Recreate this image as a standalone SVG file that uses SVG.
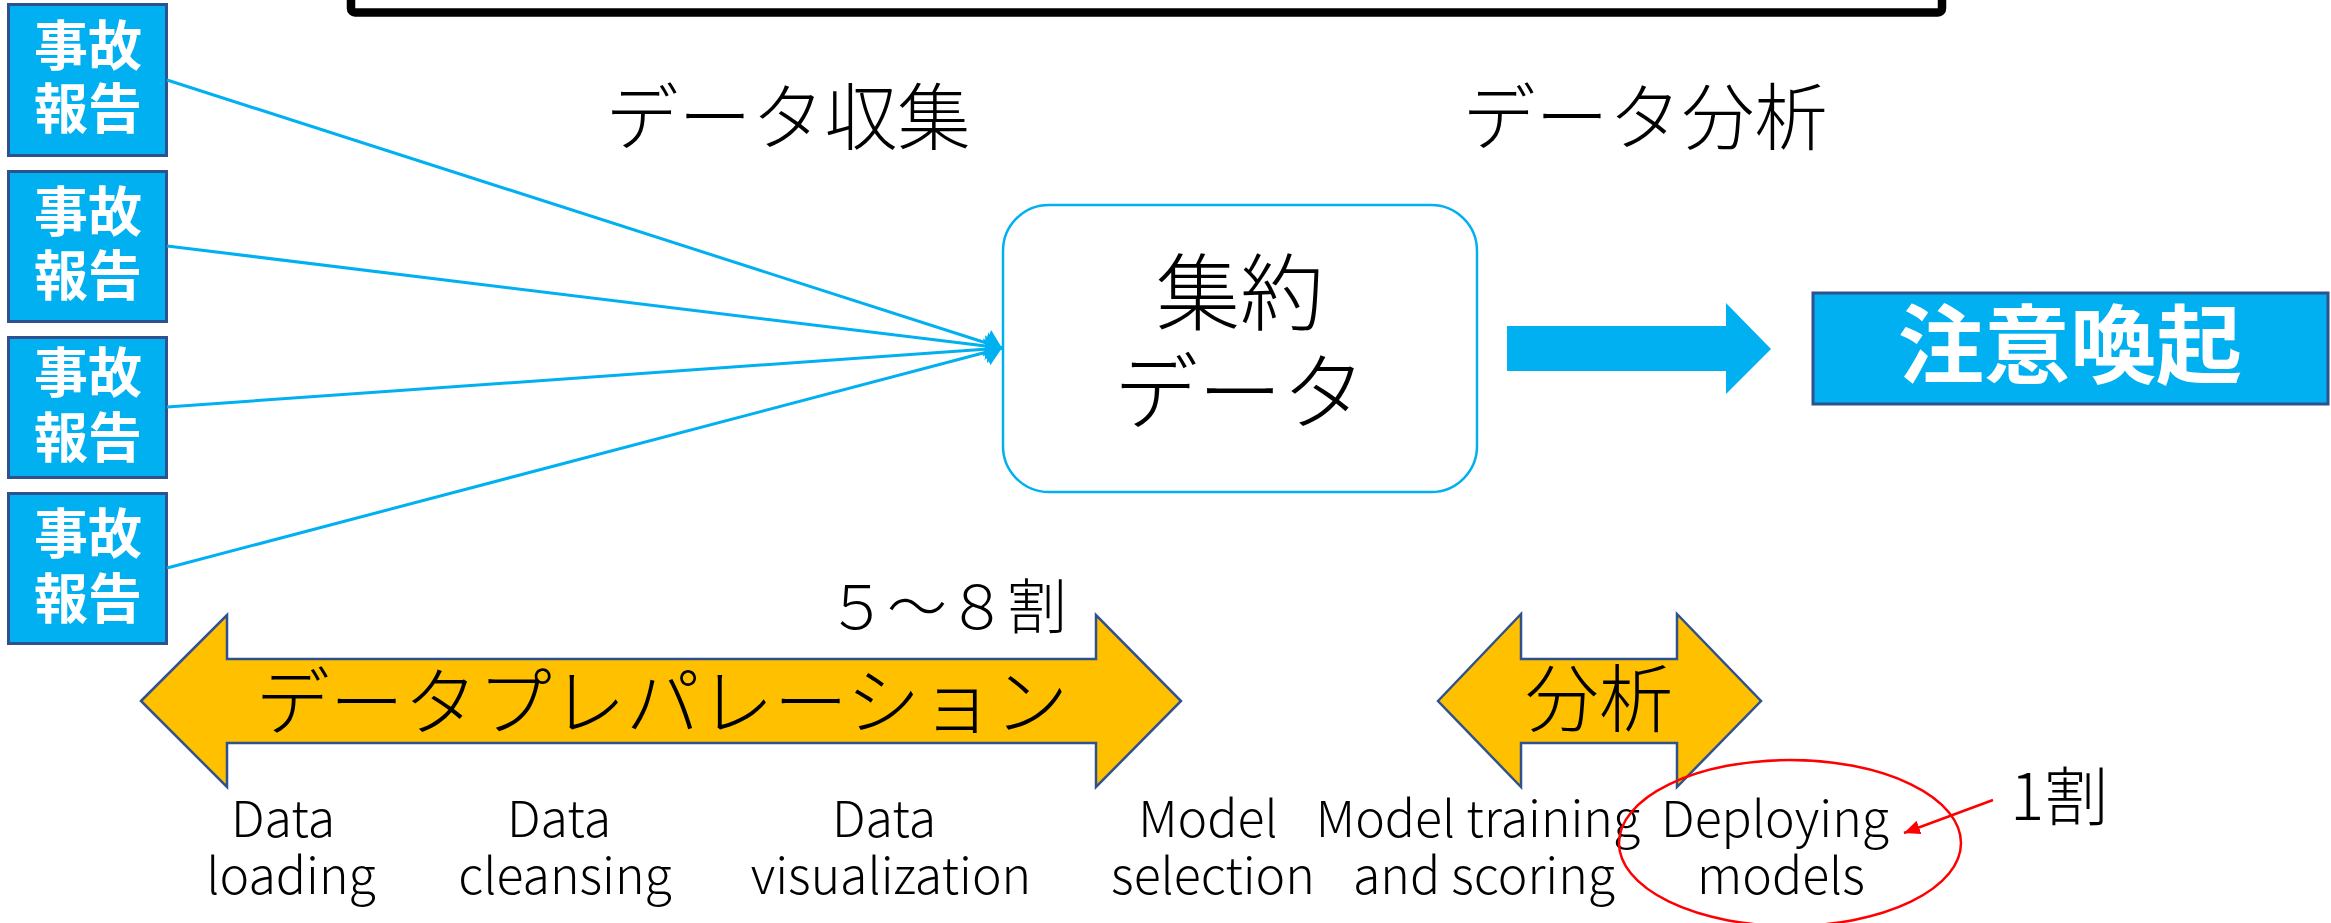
<svg xmlns="http://www.w3.org/2000/svg" width="2331" height="923" viewBox="0 0 2331 923">
<defs>
<style>
.rep{fill:#00B0F0;stroke:#2F528F;stroke-width:3}
.rept{font-family:"Noto Sans CJK JP","Noto Sans CJK SC",sans-serif;font-weight:700;font-size:54px;fill:#fff;text-anchor:middle}
.jp{font-family:"Noto Sans CJK JP","Noto Sans CJK SC",sans-serif;font-weight:300;fill:#000;text-anchor:middle}
.lbl{font-family:"Noto Sans CJK JP","Noto Sans CJK SC",sans-serif;font-weight:300;font-size:50px;fill:#000;text-anchor:middle}
.conn{stroke:#00B0F0;stroke-width:3;fill:none;marker-end:url(#ab)}
.yarrow{fill:#FFC000;stroke:#2F528F;stroke-width:2.5;stroke-linejoin:miter}
</style>
<marker id="ab" markerUnits="userSpaceOnUse" markerWidth="17" markerHeight="28" refX="16" refY="14" orient="auto">
<path d="M0,0 L16,14 L0,28 z" fill="#00B0F0"/>
</marker>
<marker id="ar" markerUnits="userSpaceOnUse" markerWidth="17" markerHeight="15" refX="16" refY="7" orient="auto">
<path d="M0,0 L16,7 L0,14 z" fill="#FF0000"/>
</marker>
</defs>
<rect width="2331" height="923" fill="#fff"/>

<g id="title-box">
<rect x="351" y="-60" width="1591" height="72.5" rx="4" fill="none" stroke="#000" stroke-width="8.5"/>
</g>

<g id="report1">
<rect class="rep" x="8.5" y="4.5" width="158" height="151"/>
<text class="rept" x="88" y="66">事故</text>
<text class="rept" x="88" y="129">報告</text>
</g>
<g id="report2">
<rect class="rep" x="8.5" y="171.5" width="158" height="150"/>
<text class="rept" x="88" y="232">事故</text>
<text class="rept" x="88" y="296">報告</text>
</g>
<g id="report3">
<rect class="rep" x="8.5" y="337.5" width="158" height="140"/>
<text class="rept" x="88" y="393">事故</text>
<text class="rept" x="88" y="458">報告</text>
</g>
<g id="report4">
<rect class="rep" x="8.5" y="493.5" width="158" height="150"/>
<text class="rept" x="88" y="554">事故</text>
<text class="rept" x="88" y="619">報告</text>
</g>

<g id="connectors">
<line class="conn" x1="167" y1="80" x2="1002" y2="348"/>
<line class="conn" x1="167" y1="246" x2="1002" y2="348"/>
<line class="conn" x1="167" y1="407" x2="1002" y2="348"/>
<line class="conn" x1="167" y1="568" x2="1002" y2="348"/>
<polygon points="1507,326 1726,326 1726,303 1771,349 1726,394 1726,371 1507,371" fill="#00B0F0"/>
<line x1="1993" y1="800" x2="1904" y2="833" stroke="#FF0000" stroke-width="2.5" marker-end="url(#ar)"/>
</g>

<g id="label-collect">
<text class="jp" x="788" y="144" font-size="73">データ収集</text>
</g>
<g id="label-analysis">
<text class="jp" x="1645" y="144" font-size="73">データ分析</text>
</g>

<g id="aggregated-data">
<rect x="1003" y="205" width="474" height="287" rx="46" ry="46" fill="#fff" stroke="#00B0F0" stroke-width="2.5"/>
<text class="jp" x="1240" y="324" font-size="84">集約</text>
<text class="jp" x="1240" y="423" font-size="84">データ</text>
</g>

<g id="alert">
<rect x="1813" y="293" width="515" height="111" fill="#00B0F0" stroke="#2F528F" stroke-width="3"/>
<text x="2070" y="377" font-family="Noto Sans CJK JP, Noto Sans CJK SC, sans-serif" font-weight="700" font-size="86" fill="#fff" text-anchor="middle">注意喚起</text>
</g>

<g id="prep-arrow">
<polygon class="yarrow" points="141,701 227,615 227,659 1096,659 1096,615 1181,701 1096,787 1096,743 227,743 227,787"/>
<text class="jp" x="662" y="729" font-size="74">データプレパレーション</text>
</g>
<g id="ratio-prep">
<text class="jp" x="947" y="629" font-size="60">５～８割</text>
</g>

<g id="analysis-arrow">
<polygon class="yarrow" points="1438,701 1521,614 1521,659 1677,659 1677,614 1761,701 1677,787 1677,743 1521,743 1521,787"/>
<text class="jp" x="1599" y="726" font-size="74">分析</text>
</g>

<g id="steps">
<text class="lbl"><tspan x="283" y="837">Data</tspan><tspan x="291" y="894">loading</tspan></text>
<text class="lbl"><tspan x="559" y="837">Data</tspan><tspan x="565" y="894">cleansing</tspan></text>
<text class="lbl"><tspan x="884" y="837">Data</tspan><tspan x="891" y="894">visualization</tspan></text>
<text class="lbl"><tspan x="1208" y="837">Model</tspan><tspan x="1213" y="894">selection</tspan></text>
<text class="lbl"><tspan x="1478" y="837">Model training</tspan><tspan x="1484" y="894">and scoring</tspan></text>
<text class="lbl"><tspan x="1775" y="837">Deploying</tspan><tspan x="1781" y="894">models</tspan></text>
</g>

<g id="highlight">
<ellipse cx="1790" cy="843" rx="171" ry="83" fill="none" stroke="#FF0000" stroke-width="2.5"/>
<text x="2010" y="820" font-family="Noto Sans CJK JP, Noto Sans CJK SC, sans-serif" font-weight="300" font-size="64" fill="#000" style="text-anchor:start">1割</text>
</g>
</svg>
